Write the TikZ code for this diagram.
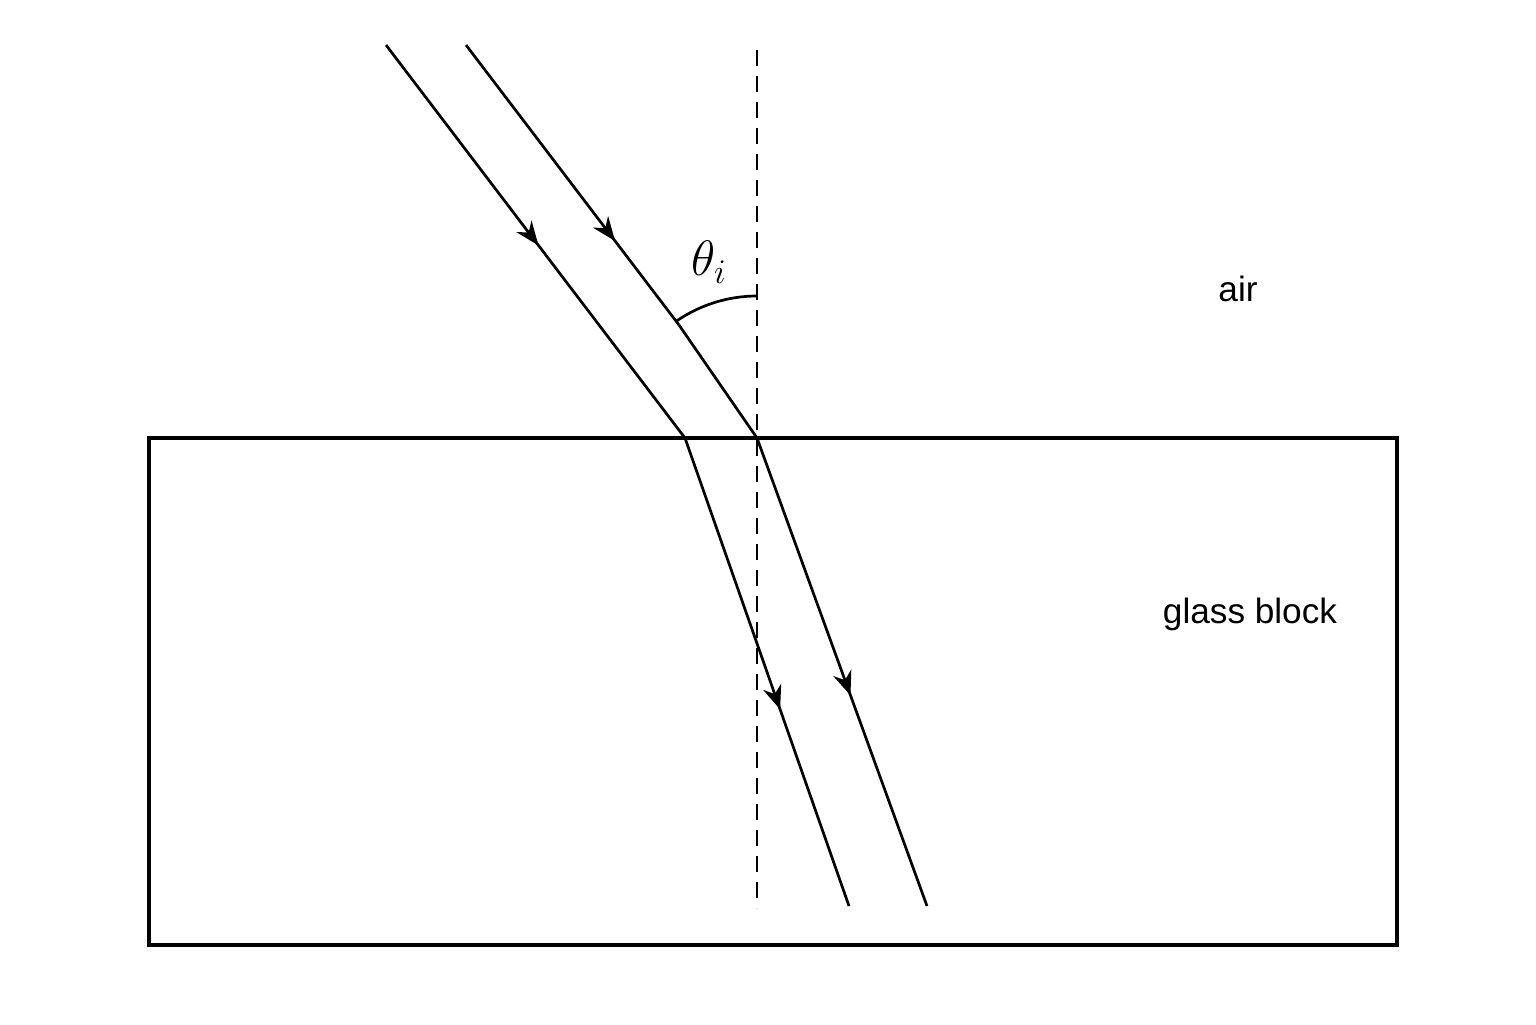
\documentclass[tikz,border=0pt]{standalone}
\usepackage{fontspec}
\setmainfont{Liberation Sans}
\usetikzlibrary{arrows.meta,decorations.markings}
\tikzset{
  ray/.style={line width=1.35pt, line join=round},
  midarrow/.style={postaction={decorate},decoration={markings,
     mark=at position #1 with {\arrow{Stealth[length=12pt,width=9.5pt]}}}},
  normalline/.style={line width=1.35pt, dash pattern=on 8pt off 5pt},
  blockline/.style={line width=1.6pt},
  lbl/.style={font=\fontsize{17.6}{20}\selectfont, inner sep=0pt}
}
\begin{document}
\begin{tikzpicture}[x=0.5pt,y=-0.5pt]
\useasboundingbox (0,0) rectangle (1536,1024);
% glass block
\draw[blockline] (149,438) rectangle (1397,945);
% normal
\coordinate (n1) at (757,50);
\coordinate (n2) at (757,908);
\draw[normalline] (n1) -- (n2);
% left ray
\coordinate (a1) at (386,45);
\coordinate (a2) at (685,438);
\coordinate (a3) at (849,906);
\draw[ray, midarrow=0.51] (a1) -- (a2);
\draw[ray, midarrow=0.58] (a2) -- (a3);
% right ray
\coordinate (b1) at (466,45);
\coordinate (bk) at (679,325);
\coordinate (b2) at (757,438);
\coordinate (b3) at (927,906);
\draw[ray, midarrow=0.70] (b1) -- (bk);
\draw[ray] (bk) -- (b2);
\draw[ray, midarrow=0.55] (b2) -- (b3);
% angle arc
\draw[ray] (757,296) arc[start angle=270, end angle=235.5, radius=142];
\node[inner sep=0pt, font=\fontsize{24}{28}\selectfont] (theta) at (709,262) {$\theta_i$};
% labels
\node[lbl] (air) at (1238,289) {air};
\node[lbl] (glass) at (1250,614) {glass block};
\end{tikzpicture}
\end{document}
